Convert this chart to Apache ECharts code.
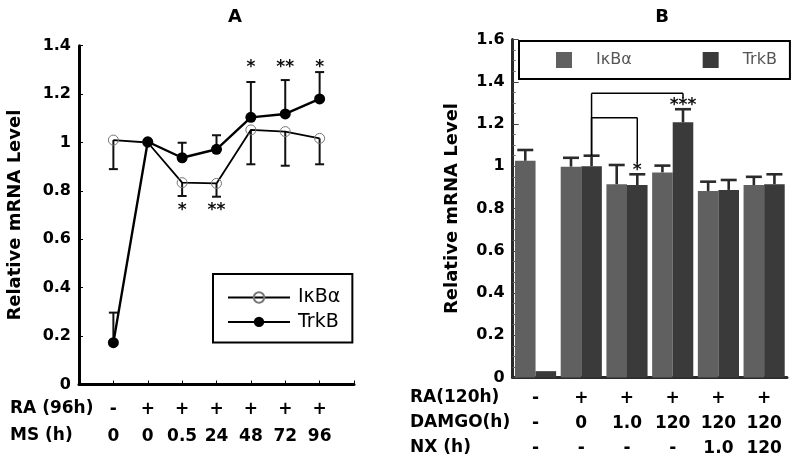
<!DOCTYPE html>
<html>
<head>
<meta charset="utf-8">
<script src="https://cdn.jsdelivr.net/npm/echarts@6/dist/echarts.min.js"></script>
<style>html,body{margin:0;padding:0;background:#fff}#c{width:799px;height:465px}</style>
</head>
<body>
<div id="c"></div>
<script>
// ---------- Panel A data ----------
const raA = ['-', '+', '+', '+', '+', '+', '+'];
const msA = ['0', '0', '0.5', '24', '48', '72', '96'];
const ikbA = [1.01, 1.0, 0.834, 0.831, 1.052, 1.045, 1.017];
const ikbAErr = [0.12, 0, 0.055, 0.055, 0.142, 0.141, 0.107];
const trkA = [0.173, 1.003, 0.937, 0.972, 1.104, 1.118, 1.18];
const trkAErr = [0.124, 0, 0.062, 0.058, 0.146, 0.14, 0.111];
const starsAUp = ['', '', '', '', '*', '**', '*'];
const starsADown = ['', '', '*', '**', '', '', ''];

// ---------- Panel B data ----------
const raB = ['-', '+', '+', '+', '+', '+'];
const damgoB = ['-', '0', '1.0', '120', '120', '120'];
const nxB = ['-', '-', '-', '-', '1.0', '120'];
const ikbB = [1.026, 0.998, 0.915, 0.971, 0.883, 0.911];
const ikbBErr = [0.051, 0.042, 0.091, 0.032, 0.044, 0.039];
const trkB = [0.03, 1.0, 0.911, 1.208, 0.888, 0.915];
const trkBErr = [0, 0.05, 0.051, 0.062, 0.047, 0.047];
const starsB = ['', '', '*', '***', '', ''];
const bracketFrom = [1, 1];
const bracketTo = [3, 2];
const bracketLevel = [1.345, 1.23];

const BOLD = 'DejaVu Sans';
const chart = echarts.init(document.getElementById('c'), null, {renderer: 'canvas'});

const idxA = raA.map((_, i) => i + 1);

function errRenderA(dir) {
  return function (params, api) {
    const x = api.value(0), v = api.value(1), e = api.value(2);
    if (!e) return null;
    const p0 = api.coord([x, v]);
    const p1 = api.coord([x, v + dir * e]);
    const st = {stroke: '#111', lineWidth: 2};
    return {type: 'group', children: [
      {type: 'line', shape: {x1: p0[0], y1: p0[1], x2: p1[0], y2: p1[1]}, style: st},
      {type: 'line', shape: {x1: p1[0] - 4.5, y1: p1[1], x2: p1[0] + 4.5, y2: p1[1]}, style: st}
    ]};
  };
}

function starRenderA(level, dy) {
  return function (params, api) {
    const x = api.value(0);
    const s = params.dataIndex;
    const txt = params.seriesName === 'starsUp' ? starsAUp[s] : starsADown[s];
    if (!txt) return null;
    const p = api.coord([x, level]);
    return {type: 'text', style: {text: txt, x: p[0], y: p[1] + dy, align: 'center', verticalAlign: 'middle',
      font: 'bold 17px ' + BOLD, fill: '#111'}};
  };
}

function errRenderB(side) {
  return function (params, api) {
    const i = api.value(0), v = api.value(1), e = api.value(2);
    if (!e) return null;
    const band = api.size([1, 0])[0];
    const off = side * band * 0.9 / 4;
    const p0 = api.coord([i, v]);
    const p1 = api.coord([i, v + e]);
    const x = p0[0] + off;
    const st = {stroke: '#2a2a2a', lineWidth: 2.6};
    return {type: 'group', children: [
      {type: 'line', shape: {x1: x, y1: p0[1], x2: x, y2: p1[1]}, style: st},
      {type: 'line', shape: {x1: x - 8, y1: p1[1], x2: x + 8, y2: p1[1]}, style: st}
    ]};
  };
}

function bracketRender(params, api) {
  const k = params.dataIndex;
  const f = bracketFrom[k], t = bracketTo[k];
  const band = api.size([1, 0])[0];
  const off = band * 0.9 / 4;
  const pStart = api.coord([f, trkB[f] + trkBErr[f]]);
  const pLev = api.coord([f, bracketLevel[k]]);
  const pEnd = api.coord([t, trkB[t] + trkBErr[t]]);
  const xs = pStart[0] + off, xe = pEnd[0] + off;
  const yEnd = pEnd[1] - 11;
  const st = {stroke: '#000', lineWidth: 1.5};
  return {type: 'group', children: [
    {type: 'line', shape: {x1: xs, y1: pStart[1], x2: xs, y2: pLev[1]}, style: st},
    {type: 'line', shape: {x1: xs, y1: pLev[1], x2: xe, y2: pLev[1]}, style: st},
    {type: 'line', shape: {x1: xe, y1: pLev[1], x2: xe, y2: yEnd}, style: st}
  ]};
}

function starRenderB(params, api) {
  const i = api.value(0);
  const txt = starsB[i];
  if (!txt) return null;
  const band = api.size([1, 0])[0];
  const off = band * 0.9 / 4;
  const p = api.coord([i, trkB[i] + trkBErr[i]]);
  return {type: 'text', style: {text: txt, x: p[0] + off, y: p[1] - 4, align: 'center', verticalAlign: 'middle',
    font: 'bold 17px ' + BOLD, fill: '#111'}};
}

const option = {
  backgroundColor: '#fff',
  animation: false,
  title: [
    {text: 'A', left: 230, top: 3, textAlign: 'center', textStyle: {fontFamily: BOLD, fontWeight: 'bold', fontSize: 18, color: '#000'}},
    {text: 'B', left: 657, top: 3, textAlign: 'center', textStyle: {fontFamily: BOLD, fontWeight: 'bold', fontSize: 18, color: '#000'}}
  ],
  legend: [
    {
      data: ['IκBα', 'TrkB'], orient: 'vertical', left: 213, top: 274,
      padding: [14, 12, 11, 14], itemWidth: 62, itemHeight: 13, itemGap: 5.4,
      borderColor: '#000', borderWidth: 2, selectedMode: false,
      textStyle: {fontFamily: 'DejaVu Sans', fontSize: 19, color: '#000', padding: [0, 0, 0, 3]}
    },
    {
      data: ['IκBα#B', 'TrkB#B'], orient: 'horizontal', left: 519, top: 41,
      padding: [11, 13, 11, 37], itemWidth: 16, itemHeight: 16, itemGap: 71, icon: 'rect',
      borderColor: '#000', borderWidth: 2, selectedMode: false,
      formatter: n => n.replace('#B', ''),
      textStyle: {fontFamily: 'DejaVu Sans', fontSize: 16, color: '#555', padding: [0, 0, 0, 19]}
    }
  ],
  grid: [
    {left: 79, right: 445, top: 45.7, bottom: 80.5},
    {left: 512.7, right: 12, top: 39.5, bottom: 87.5}
  ],
  xAxis: [
    {
      gridIndex: 0, type: 'value', min: 0, max: 8, interval: 1,
      axisLine: {show: true, lineStyle: {color: '#000', width: 3}},
      axisTick: {show: true, inside: true, length: 4, lineStyle: {color: '#000', width: 1}},
      splitLine: {show: false},
      axisLabel: {
        margin: 12, lineHeight: 27, fontFamily: BOLD, fontWeight: 'bold', fontSize: 17, color: '#000',
        formatter: v => (v >= 1 && v <= 7) ? raA[v - 1] + '\n' + msA[v - 1] : ''
      }
    },
    {
      gridIndex: 1, type: 'category', data: raB.map((_, i) => i),
      axisLine: {show: true, lineStyle: {color: '#2a2a2a', width: 3}},
      axisTick: {show: false},
      axisLabel: {
        interval: 0, margin: 9, lineHeight: 25, fontFamily: BOLD, fontWeight: 'bold', fontSize: 17, color: '#000',
        formatter: (v, i) => raB[i] + '\n' + damgoB[i] + '\n' + nxB[i]
      }
    }
  ],
  yAxis: [
    {
      gridIndex: 0, type: 'value', min: 0, max: 1.4, interval: 0.2,
      name: 'Relative mRNA Level', nameLocation: 'middle', nameGap: 55, nameRotate: 90,
      nameTextStyle: {fontFamily: BOLD, fontWeight: 'bold', fontSize: 18, color: '#000'},
      axisLine: {show: true, lineStyle: {color: '#000', width: 3}},
      axisTick: {show: true, inside: true, length: 4, lineStyle: {color: '#000', width: 1}},
      splitLine: {show: false},
      axisLabel: {margin: 8, fontFamily: BOLD, fontWeight: 'bold', fontSize: 16, color: '#000',
        formatter: v => String(+v.toFixed(1))}
    },
    {
      gridIndex: 1, type: 'value', min: 0, max: 1.6, interval: 0.2,
      name: 'Relative mRNA Level', nameLocation: 'middle', nameGap: 51, nameRotate: 90,
      nameTextStyle: {fontFamily: BOLD, fontWeight: 'bold', fontSize: 18, color: '#000'},
      axisLine: {show: true, lineStyle: {color: '#2a2a2a', width: 3}},
      axisTick: {show: true, inside: true, length: 6, lineStyle: {color: '#444', width: 1}},
      minorTick: {show: true, splitNumber: 4, length: 3, lineStyle: {color: '#666', width: 1}},
      splitLine: {show: false}, minorSplitLine: {show: false},
      axisLabel: {margin: 8, fontFamily: BOLD, fontWeight: 'bold', fontSize: 16, color: '#000',
        formatter: v => String(+v.toFixed(1))}
    }
  ],
  graphic: [
    {type: 'text', left: 10, top: 400, style: {text: 'RA (96h)', font: 'bold 17px ' + BOLD, fill: '#000'}},
    {type: 'text', left: 10, top: 427, style: {text: 'MS (h)', font: 'bold 17px ' + BOLD, fill: '#000'}},
    {type: 'text', left: 410, top: 389, style: {text: 'RA(120h)', font: 'bold 17px ' + BOLD, fill: '#000'}},
    {type: 'text', left: 410, top: 414, style: {text: 'DAMGO(h)', font: 'bold 17px ' + BOLD, fill: '#000'}},
    {type: 'text', left: 410, top: 439, style: {text: 'NX (h)', font: 'bold 17px ' + BOLD, fill: '#000'}}
  ],
  series: [
    {
      name: 'errIkbA', type: 'custom', xAxisIndex: 0, yAxisIndex: 0, z: 3,
      renderItem: errRenderA(-1), data: idxA.map((x, i) => [x, ikbA[i], ikbAErr[i]])
    },
    {
      name: 'errTrkA', type: 'custom', xAxisIndex: 0, yAxisIndex: 0, z: 3,
      renderItem: errRenderA(1), data: idxA.map((x, i) => [x, trkA[i], trkAErr[i]])
    },
    {
      name: 'IκBα', type: 'line', xAxisIndex: 0, yAxisIndex: 0, z: 4,
      data: idxA.map((x, i) => [x, ikbA[i]]),
      symbol: 'circle', symbolSize: 10,
      lineStyle: {color: '#000', width: 1.8},
      itemStyle: {color: 'rgba(255,255,255,0)', borderColor: '#777', borderWidth: 1}
    },
    {
      name: 'TrkB', type: 'line', xAxisIndex: 0, yAxisIndex: 0, z: 5,
      data: idxA.map((x, i) => [x, trkA[i]]),
      symbol: 'circle', symbolSize: 11,
      lineStyle: {color: '#000', width: 2.4},
      itemStyle: {color: '#000', borderColor: '#000', borderWidth: 0}
    },
    {
      name: 'starsUp', type: 'custom', xAxisIndex: 0, yAxisIndex: 0, z: 6,
      renderItem: starRenderA(1.32, 3), data: idxA.map(x => [x, 0])
    },
    {
      name: 'starsDown', type: 'custom', xAxisIndex: 0, yAxisIndex: 0, z: 6,
      renderItem: starRenderA(0.73, 3), data: idxA.map(x => [x, 0])
    },
    {
      name: 'IκBα#B', type: 'bar', xAxisIndex: 1, yAxisIndex: 1,
      data: ikbB, barGap: '0%', barCategoryGap: '10%',
      itemStyle: {color: '#606060'}
    },
    {
      name: 'TrkB#B', type: 'bar', xAxisIndex: 1, yAxisIndex: 1,
      data: trkB, barGap: '0%', barCategoryGap: '10%',
      itemStyle: {color: '#3a3a3a'}
    },
    {
      name: 'errIkbB', type: 'custom', xAxisIndex: 1, yAxisIndex: 1, z: 3,
      renderItem: errRenderB(-1), data: ikbB.map((v, i) => [i, v, ikbBErr[i]])
    },
    {
      name: 'errTrkB', type: 'custom', xAxisIndex: 1, yAxisIndex: 1, z: 3,
      renderItem: errRenderB(1), data: trkB.map((v, i) => [i, v, trkBErr[i]])
    },
    {
      name: 'brackets', type: 'custom', xAxisIndex: 1, yAxisIndex: 1, z: 3,
      itemStyle: {color: '#000'}, emphasis: {disabled: true}, silent: true,
      renderItem: bracketRender, data: bracketFrom.map((f, k) => [f, bracketLevel[k], bracketTo[k]])
    },
    {
      name: 'starsB', type: 'custom', xAxisIndex: 1, yAxisIndex: 1, z: 4,
      renderItem: starRenderB, data: trkB.map((v, i) => [i, v])
    }
  ]
};
chart.setOption(option);
</script>
</body>
</html>
